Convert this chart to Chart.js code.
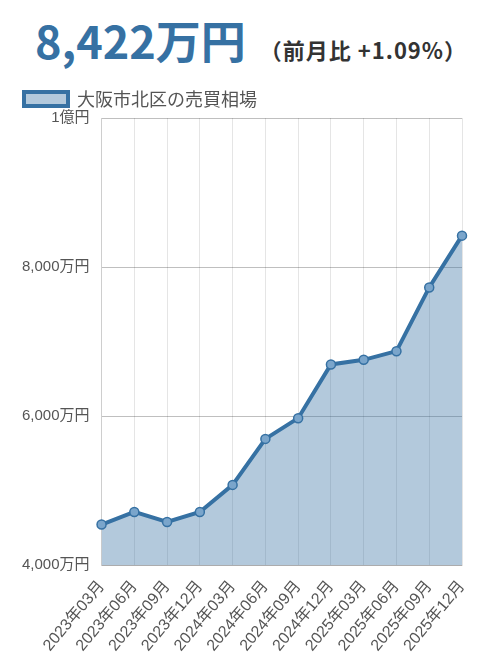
<!DOCTYPE html>
<html lang="ja">
<head>
<meta charset="utf-8">
<script src="https://cdn.jsdelivr.net/npm/chart.js@4"></script>
<style>
  body { margin: 0; background: #fff; font-family: "Noto Sans CJK JP", "Noto Sans", sans-serif; }
  .head { height: 76px; text-align: center; white-space: nowrap; padding-left: 2px; }
  .price { font-size: 45px; font-weight: bold; color: #3671a3; line-height: 80px; }
  .diff { font-size: 22px; font-weight: bold; color: #333; margin-left: 14px; letter-spacing: 1px; }
  .wrap { position: relative; width: 490px; height: 595px; padding-left: 10px; }
</style>
</head>
<body>
<div class="head"><span class="price">8,422万円</span><span class="diff">（前月比 +1.09%）</span></div>
<div class="wrap"><canvas id="chart"></canvas></div>
<script>
// 四半期ごとの相場（万円）
const labels = ["2023年03月", "2023年06月", "2023年09月", "2023年12月", "2024年03月", "2024年06月",
                "2024年09月", "2024年12月", "2025年03月", "2025年06月", "2025年09月", "2025年12月"];
const prices = [4546, 4715, 4581, 4715, 5078, 5695, 5973, 6694, 6756, 6872, 7727, 8422];
const seriesName = "大阪市北区の売買相場";

const fmt = (v) => v >= 10000 ? (v / 10000) + "億円" : v.toLocaleString() + "万円";

new Chart(document.getElementById("chart"), {
  type: "line",
  data: {
    labels: labels,
    datasets: [{
      label: seriesName,
      data: prices,
      borderColor: "#3671a3",
      backgroundColor: "rgba(54,113,163,0.38)",
      borderWidth: 4,
      fill: true,
      tension: 0,
      pointRadius: 4.5,
      pointBorderWidth: 1.5,
      pointBackgroundColor: "#7aa5cb",
      pointBorderColor: "#3671a3"
    }]
  },
  options: {
    responsive: true,
    maintainAspectRatio: false,
    animation: false,
    layout: { padding: { right: 38, bottom: 4 } },
    plugins: {
      legend: {
        display: true,
        align: "start",
        labels: {
          boxWidth: 44,
          boxHeight: 14,
          padding: 14,
          color: "#555",
          font: { size: 18, family: "Noto Sans CJK JP" }
        }
      },
      tooltip: { enabled: false }
    },
    scales: {
      x: {
        grid: { color: "rgba(0,0,0,0.1)", drawTicks: false },
        ticks: {
          color: "#555",
          padding: 12,
          maxRotation: 50,
          minRotation: 50,
          font: { size: 16, family: "Liberation Sans, Noto Sans CJK JP" }
        }
      },
      y: {
        min: 4000,
        max: 10000,
        grid: { color: "rgba(0,0,0,0.25)", drawTicks: false },
        ticks: {
          stepSize: 2000,
          color: "#555",
          padding: 12,
          font: { size: 15, family: "Liberation Sans, Noto Sans CJK JP" },
          callback: (v) => fmt(v)
        }
      }
    }
  }
});
</script>
</body>
</html>
